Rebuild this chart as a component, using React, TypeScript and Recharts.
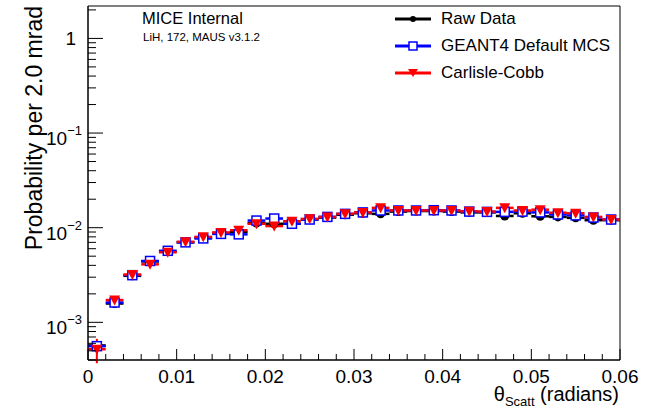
import React from 'react';
import { ScatterChart, Scatter, XAxis, YAxis, ErrorBar, ReferenceArea } from 'recharts';

// bin centres of 2 mrad bins
const binCentres = [
  0.001, 0.003, 0.005, 0.007, 0.009, 0.011, 0.013, 0.015, 0.017, 0.019,
  0.021, 0.023, 0.025, 0.027, 0.029, 0.031, 0.033, 0.035, 0.037, 0.039,
  0.041, 0.043, 0.045, 0.047, 0.049, 0.051, 0.053, 0.055, 0.057, 0.059,
];
const binHalfWidth = 0.001;

const rawData = [
  5.7e-4, 1.58e-3, 3.1e-3, 4.4e-3, 5.6e-3, 7.0e-3, 7.8e-3, 8.8e-3, 9.0e-3, 1.12e-2,
  1.1e-2, 1.1e-2, 1.22e-2, 1.28e-2, 1.37e-2, 1.42e-2, 1.4e-2, 1.48e-2, 1.5e-2, 1.5e-2,
  1.48e-2, 1.45e-2, 1.45e-2, 1.33e-2, 1.42e-2, 1.32e-2, 1.3e-2, 1.27e-2, 1.2e-2, 1.2e-2,
];
const rawErr = [
  5e-5, 7e-5, 9e-5, 1.1e-4, 1.2e-4, 1.3e-4, 1.4e-4, 1.5e-4, 1.5e-4, 1.7e-4,
  1.7e-4, 1.7e-4, 1.8e-4, 1.8e-4, 1.9e-4, 1.9e-4, 1.9e-4, 2e-4, 2e-4, 2e-4,
  2e-4, 2e-4, 2e-4, 1.9e-4, 2e-4, 1.9e-4, 1.9e-4, 1.9e-4, 1.8e-4, 1.8e-4,
];

const geant4 = [
  5.6e-4, 1.62e-3, 3.15e-3, 4.45e-3, 5.7e-3, 7.0e-3, 7.7e-3, 8.6e-3, 8.5e-3, 1.19e-2,
  1.25e-2, 1.1e-2, 1.22e-2, 1.3e-2, 1.4e-2, 1.45e-2, 1.52e-2, 1.52e-2, 1.52e-2, 1.53e-2,
  1.52e-2, 1.48e-2, 1.47e-2, 1.47e-2, 1.48e-2, 1.45e-2, 1.38e-2, 1.35e-2, 1.28e-2, 1.22e-2,
];
const geant4Err = [
  3e-5, 5e-5, 7e-5, 8e-5, 9e-5, 1e-4, 1e-4, 1.1e-4, 1.1e-4, 1.3e-4,
  1.3e-4, 1.2e-4, 1.3e-4, 1.3e-4, 1.4e-4, 1.4e-4, 1.4e-4, 1.4e-4, 1.4e-4, 1.4e-4,
  1.4e-4, 1.4e-4, 1.4e-4, 1.4e-4, 1.4e-4, 1.4e-4, 1.3e-4, 1.3e-4, 1.3e-4, 1.3e-4,
];

const carlisleCobb = [
  5.2e-4, 1.72e-3, 3.2e-3, 4.1e-3, 5.5e-3, 7.1e-3, 8.0e-3, 8.9e-3, 9.4e-3, 1.1e-2,
  1.04e-2, 1.17e-2, 1.24e-2, 1.3e-2, 1.4e-2, 1.45e-2, 1.62e-2, 1.52e-2, 1.52e-2, 1.52e-2,
  1.52e-2, 1.49e-2, 1.48e-2, 1.62e-2, 1.52e-2, 1.55e-2, 1.44e-2, 1.42e-2, 1.3e-2, 1.22e-2,
];
const carlisleCobbErr = [
  1.5e-4, 1.2e-4, 1.4e-4, 1.5e-4, 1.6e-4, 1.8e-4, 1.8e-4, 1.9e-4, 2e-4, 2.1e-4,
  2e-4, 2.1e-4, 2.2e-4, 2.2e-4, 2.3e-4, 2.3e-4, 2.4e-4, 2.3e-4, 2.3e-4, 2.3e-4,
  2.3e-4, 2.3e-4, 2.3e-4, 2.4e-4, 2.3e-4, 2.4e-4, 2.3e-4, 2.3e-4, 2.2e-4, 2.2e-4,
];

const xTicks = [
  0, 0.002, 0.004, 0.006, 0.008, 0.01, 0.012, 0.014, 0.016, 0.018, 0.02,
  0.022, 0.024, 0.026, 0.028, 0.03, 0.032, 0.034, 0.036, 0.038, 0.04,
  0.042, 0.044, 0.046, 0.048, 0.05, 0.052, 0.054, 0.056, 0.058, 0.06,
];
const xMajorTicks = [0, 0.01, 0.02, 0.03, 0.04, 0.05, 0.06];
const xMajorLabels = ['0', '0.01', '0.02', '0.03', '0.04', '0.05', '0.06'];

const yMajorTicks = [0.001, 0.01, 0.1, 1];
const yMajorExponents = ['\u22123', '\u22122', '\u22121', ''];
const yMinorMultipliers = [2, 3, 4, 5, 6, 7, 8, 9];
const yDecades = [0.0001, 0.001, 0.01, 0.1, 1];
const yDomain: [number, number] = [4e-4, 2.2];

const yTicks = [
  ...yMajorTicks,
  ...yDecades.flatMap((d) => yMinorMultipliers.map((m) => m * d)),
].filter((v) => v >= yDomain[0] && v <= yDomain[1]);

const makeRows = (vals: number[], errs: number[]) =>
  binCentres.map((x, i) => ({ x, y: vals[i], xErr: binHalfWidth, yErr: errs[i] }));

const rawRows = makeRows(rawData, rawErr);
const geantRows = makeRows(geant4, geant4Err);
const ccRows = makeRows(carlisleCobb, carlisleCobbErr);

const FONT = '"Liberation Sans", Arial, Helvetica, sans-serif';
const BLUE = '#0000ff';
const RED = '#ff0000';

const CircleMarker = (p: any) => <circle cx={p.cx} cy={p.cy} r={4.5} fill="#000" />;
const SquareMarker = (p: any) => (
  <rect x={p.cx - 4.5} y={p.cy - 4.5} width={9} height={9} fill="#fff" stroke={BLUE} strokeWidth={1.5} />
);
const TriangleMarker = (p: any) => (
  <path d={`M${p.cx - 5.5},${p.cy - 4.5}L${p.cx + 5.5},${p.cy - 4.5}L${p.cx},${p.cy + 5.5}Z`} fill={RED} />
);

const XTick = (props: any) => {
  const { x, y, payload } = props;
  const idx = xMajorTicks.indexOf(payload.value);
  const major = idx >= 0;
  return (
    <g>
      <line x1={x} x2={x} y1={y} y2={y - (major ? 11 : 6)} stroke="#000" strokeWidth={1} />
      {major && (
        <text x={x} y={y + 23} textAnchor="middle" fontSize={19} fontFamily={FONT} fill="#000">
          {xMajorLabels[idx]}
        </text>
      )}
    </g>
  );
};

const YTick = (props: any) => {
  const { x, y, payload } = props;
  const idx = yMajorTicks.indexOf(payload.value);
  const major = idx >= 0;
  const exp = major ? yMajorExponents[idx] : '';
  return (
    <g>
      <line x1={x} x2={x + (major ? 15 : 8)} y1={y} y2={y} stroke="#000" strokeWidth={1} />
      {major && exp === '' && (
        <text x={x - 12} y={y + 7} textAnchor="end" fontSize={19} fontFamily={FONT} fill="#000">1</text>
      )}
      {major && exp !== '' && (
        <text x={x - 6} y={y + 12} textAnchor="end" fontSize={19} fontFamily={FONT} fill="#000">
          10<tspan dy={-10} fontSize={13}>{exp}</tspan>
        </text>
      )}
    </g>
  );
};

const legendItems = [
  { name: 'Raw Data', color: '#000', marker: 'circle' },
  { name: 'GEANT4 Default MCS', color: BLUE, marker: 'square' },
  { name: 'Carlisle-Cobb', color: RED, marker: 'triangle' },
];

export default function App() {
  return (
    <div style={{ position: 'absolute', left: 0, top: 0, width: 648, height: 408, background: '#fff', fontFamily: FONT }}>
      <ScatterChart width={648} height={408} margin={{ top: 6, right: 28, bottom: 0, left: 0 }}>
        <XAxis
          dataKey="x"
          type="number"
          domain={[0, 0.06]}
          allowDataOverflow
          ticks={xTicks}
          interval={0}
          tick={<XTick />}
          tickLine={false}
          tickSize={0}
          tickMargin={0}
          height={48}
          stroke="#000"
        />
        <YAxis
          dataKey="y"
          type="number"
          scale="log"
          domain={yDomain}
          allowDataOverflow
          ticks={yTicks}
          interval={0}
          tick={<YTick />}
          tickLine={false}
          tickSize={0}
          tickMargin={0}
          width={88}
          stroke="#000"
          label={(lp: any) => (
            <text
              transform={`translate(42, ${lp.viewBox.y}) rotate(-90)`}
              textAnchor="end"
              fontSize={23}
              fontFamily={FONT}
              fill="#000"
            >
              Probability per 2.0 mrad
            </text>
          )}
        />
        <ReferenceArea x1={0} x2={0.06} y1={yDomain[0]} y2={yDomain[1]} fill="none" stroke="#000" strokeWidth={1} ifOverflow="visible" />
        <Scatter data={rawRows} shape={<CircleMarker />} isAnimationActive={false}>
          <ErrorBar dataKey="xErr" direction="x" width={0} stroke="#000" strokeWidth={2.5} />
          <ErrorBar dataKey="yErr" direction="y" width={0} stroke="#000" strokeWidth={2} />
        </Scatter>
        <Scatter data={geantRows} shape={<SquareMarker />} isAnimationActive={false}>
          <ErrorBar dataKey="xErr" direction="x" width={0} stroke={BLUE} strokeWidth={2.5} />
          <ErrorBar dataKey="yErr" direction="y" width={0} stroke={BLUE} strokeWidth={2} />
        </Scatter>
        <Scatter data={ccRows} shape={<TriangleMarker />} isAnimationActive={false}>
          <ErrorBar dataKey="xErr" direction="x" width={0} stroke={RED} strokeWidth={2.5} />
          <ErrorBar dataKey="yErr" direction="y" width={0} stroke={RED} strokeWidth={2} />
        </Scatter>
      </ScatterChart>

      <svg style={{ position: 'absolute', left: 0, top: 0 }} width={648} height={408}>
        <text x={619} y={401} textAnchor="end" fontSize={20} fontFamily={FONT} fill="#000">
          θ<tspan fontSize={13} dy={5}>Scatt</tspan>
          <tspan dy={-5}> (radians)</tspan>
        </text>
      </svg>

      <div style={{ position: 'absolute', left: 142, top: 10, fontSize: 16.5, lineHeight: 1, color: '#000', whiteSpace: 'nowrap' }}>MICE Internal</div>
      <div style={{ position: 'absolute', left: 143, top: 32, fontSize: 11.5, lineHeight: 1, color: '#000', whiteSpace: 'nowrap' }}>LiH, 172, MAUS v3.1.2</div>

      {legendItems.map((it, i) => (
        <div key={it.name} style={{ position: 'absolute', left: 395, top: 8 + i * 27, height: 22, display: 'flex', alignItems: 'center', whiteSpace: 'nowrap' }}>
          <svg width={36} height={22}>
            <line x1={0} x2={36} y1={11} y2={11} stroke={it.color} strokeWidth={3} />
            {it.marker === 'circle' && <circle cx={18} cy={11} r={3} fill="#000" />}
            {it.marker === 'square' && <rect x={14} y={7} width={8} height={8} fill="#fff" stroke={BLUE} strokeWidth={1.5} />}
            {it.marker === 'triangle' && <path d="M13,7L23,7L18,15Z" fill={RED} />}
          </svg>
          <span style={{ marginLeft: 10, fontSize: 17, color: '#000' }}>{it.name}</span>
        </div>
      ))}
    </div>
  );
}
